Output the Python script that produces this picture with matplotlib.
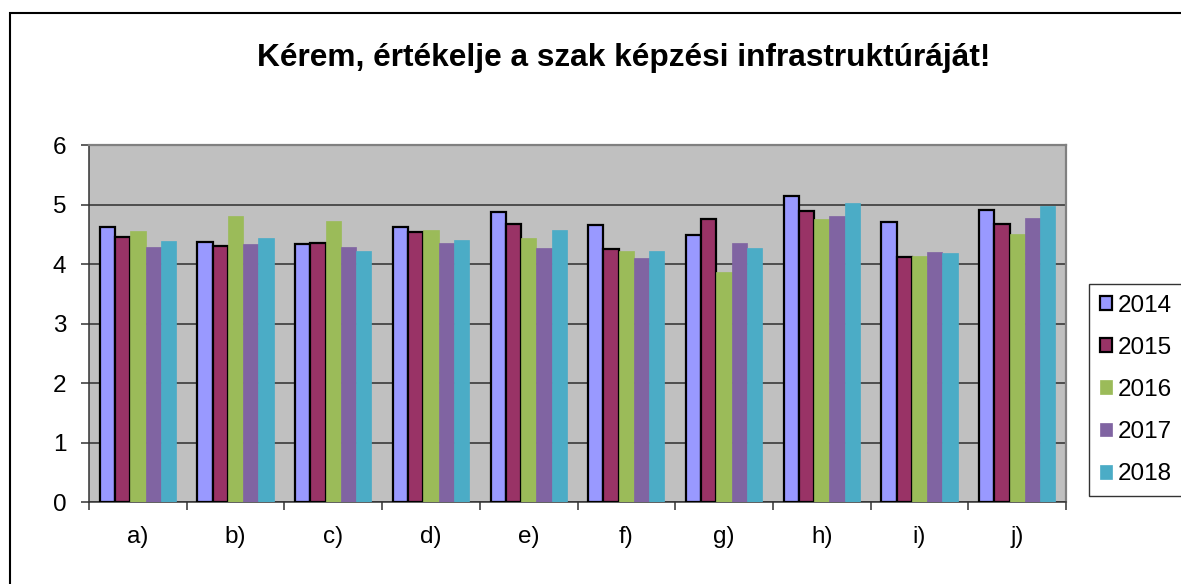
import numpy as np
import matplotlib
matplotlib.use("Agg")
import matplotlib.pyplot as plt
from matplotlib.patches import Rectangle

plt.rcParams['font.family'] = ['Liberation Sans', 'DejaVu Sans']

# Data
categories = ['a)', 'b)', 'c)', 'd)', 'e)', 'f)', 'g)', 'h)', 'i)', 'j)']
years = ['2014', '2015', '2016', '2017', '2018']
vals_2014 = [4.63, 4.37, 4.33, 4.63, 4.87, 4.66, 4.48, 5.15, 4.70, 4.91]
vals_2015 = [4.46, 4.31, 4.36, 4.53, 4.68, 4.25, 4.76, 4.89, 4.12, 4.68]
vals_2016 = [4.55, 4.81, 4.72, 4.57, 4.44, 4.22, 3.86, 4.75, 4.14, 4.50]
vals_2017 = [4.29, 4.33, 4.29, 4.35, 4.27, 4.10, 4.35, 4.81, 4.21, 4.78]
vals_2018 = [4.38, 4.44, 4.22, 4.40, 4.57, 4.22, 4.27, 5.03, 4.18, 4.98]
series = [vals_2014, vals_2015, vals_2016, vals_2017, vals_2018]

colors = ['#9999FF', '#993366', '#9BBB59', '#8064A2', '#4BACC6']
edges = ['black', 'black', None, None, None]

fig = plt.figure(figsize=(11.81, 5.84), dpi=100)
ax = fig.add_axes([0.0754, 0.1404, 0.9026 - 0.0754, 0.7517 - 0.1404])
ax.set_facecolor('#C0C0C0')

# outer chart frame (only left and top visible in the reference)
fig.patches.append(Rectangle((10 / 1181, -0.1), 1.2, 1 - 12.5 / 584 + 0.1,
                             transform=fig.transFigure, fill=False,
                             edgecolor='black', linewidth=1.5))

x = np.arange(len(categories))
w = 0.156
for i, (vals, col, ec) in enumerate(zip(series, colors, edges)):
    ax.bar(x + (i - 2) * w, vals, width=w, color=col,
           edgecolor=ec if ec else col, linewidth=1.6 if ec else 0.5,
           label=years[i], zorder=3)

ax.set_ylim(0, 6)
ax.set_xlim(-0.5, len(categories) - 0.5)
ax.set_yticks(range(7))
ax.yaxis.grid(True, color='#3a3a3a', linewidth=1.2, zorder=1)
ax.set_axisbelow(True)

ax.set_xticks(x)
ax.set_xticklabels(categories)
ax.set_xticks(np.arange(-0.5, len(categories)), minor=True)
ax.tick_params(axis='x', which='major', length=0, pad=17, labelsize=17.5)
ax.tick_params(axis='x', which='minor', length=6, width=1.1, color='#333333')
ax.tick_params(axis='y', length=6, width=1.1, color='#333333', pad=10.5, labelsize=17.5)

for side in ['top', 'right']:
    ax.spines[side].set_color('#808080')
    ax.spines[side].set_linewidth(1.6)
for side in ['left', 'bottom']:
    ax.spines[side].set_color('#333333')
    ax.spines[side].set_linewidth(1.1)

fig.text(0.528, 1 - 66 / 584, 'Kérem, értékelje a szak képzési infrastruktúráját!',
         ha='center', va='baseline', fontsize=22.8, fontweight='bold')

leg = fig.legend(loc='center left', bbox_to_anchor=(1089 / 1181, 1 - 390 / 584),
                 fontsize=17.5, frameon=True, fancybox=False, shadow=False,
                 handlelength=0.5, handleheight=0.5, handletextpad=0.25,
                 labelspacing=0.83, borderpad=0.45, borderaxespad=0)
leg.get_frame().set_edgecolor('black')
leg.get_frame().set_linewidth(1.0)

fig.savefig('out.png', dpi=100)
